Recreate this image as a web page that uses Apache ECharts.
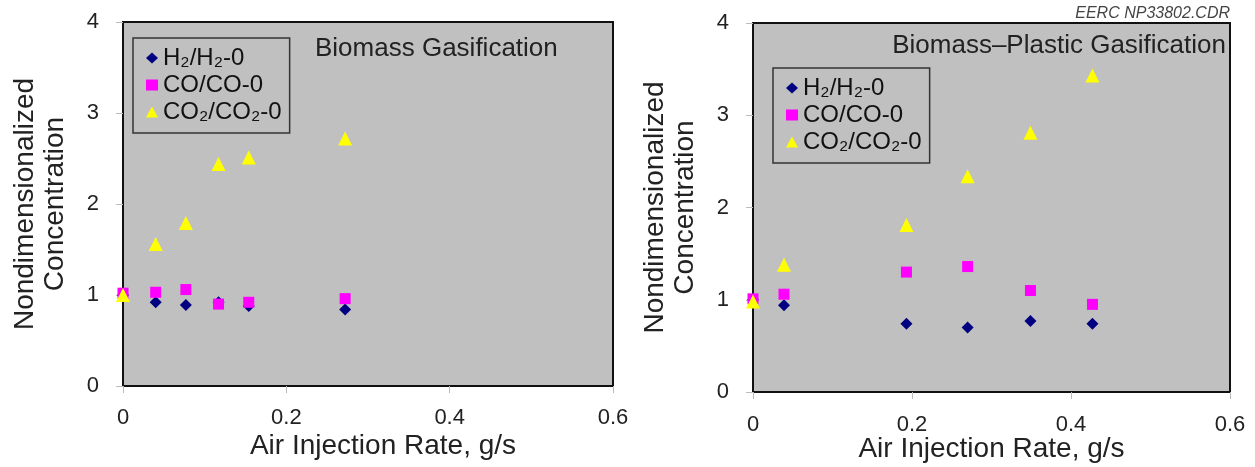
<!DOCTYPE html>
<html><head><meta charset="utf-8">
<script src="https://cdn.jsdelivr.net/npm/echarts@6/dist/echarts.min.js"></script>
<style>html,body{margin:0;padding:0;background:#fff}#c{width:1255px;height:467px}</style>
</head><body><div id="c"></div>
<script>
// Biomass Gasification
const bioX   = [0, 0.040, 0.077, 0.117, 0.154, 0.272];
const bioH2  = [1.00, 0.92, 0.89, 0.92, 0.88, 0.84];
const bioCO  = [1.02, 1.03, 1.06, 0.90, 0.92, 0.96];
const bioCO2 = [1.00, 1.56, 1.79, 2.44, 2.51, 2.72];
// Biomass–Plastic Gasification
const bpX    = [0, 0.039, 0.193, 0.270, 0.349, 0.427];
const bpH2   = [1.00, 0.94, 0.74, 0.70, 0.77, 0.74];
const bpCO   = [1.01, 1.06, 1.30, 1.36, 1.10, 0.95];
const bpCO2  = [0.98, 1.38, 1.81, 2.34, 2.81, 3.43];
const xTicks = [0, 0.2, 0.4, 0.6];
const yTicks = [0, 1, 2, 3, 4];
const seriesNames = ['H₂/H₂-0', 'CO/CO-0', 'CO₂/CO₂-0'];
const panelTitles = ['Biomass Gasification', 'Biomass–Plastic Gasification'];
const xTitle = 'Air Injection Rate, g/s';
const yTitle = 'Nondimensionalized\nConcentration';
const stamp = 'EERC NP33802.CDR';

const FONT = '"Liberation Sans", Arial, sans-serif';
const colors = ['#000080', '#ff00ff', '#ffff00'];
const symbols = ['diamond', 'rect', 'triangle'];
const sizes = [12, 11, 14];

function pair(xs, ys){ return xs.map((x,i)=>[x, ys[i]]); }

const grids = [
  {left:123, top:22, width:490, height:364},
  {left:753, top:23, width:477, height:369}
];
function xAxis(i){
  return {type:'value', gridIndex:i, min:xTicks[0], max:xTicks[xTicks.length-1], interval:0.2,
    name:xTitle, nameLocation:'middle', nameGap:i===0?46:43, nameMoveOverlap:false,
    nameTextStyle:{fontFamily:FONT, fontSize:28, color:'#222', padding:i===0?[0,0,0,30]:0},
    axisLine:{show:true, lineStyle:{color:'#111', width:2}},
    axisTick:{show:true, length:7, lineStyle:{color:'#bbb'}},
    splitLine:{show:false},
    axisLabel:{fontFamily:FONT, fontSize:22, color:'#222', margin:i===0?21:22}};
}
function yAxis(i){
  return {type:'value', gridIndex:i, min:yTicks[0], max:yTicks[yTicks.length-1], interval:1,
    name:yTitle, nameLocation:'middle', nameGap:53, nameMoveOverlap:false,
    nameTextStyle:{fontFamily:FONT, fontSize:28, color:'#222', lineHeight:30},
    axisLine:{show:true, lineStyle:{color:'#111', width:2}},
    axisTick:{show:true, length:7, lineStyle:{color:'#bbb'}},
    splitLine:{show:false},
    axisLabel:{fontFamily:FONT, fontSize:22, color:'#222', margin:24}};
}
const data = [[bioH2,bioCO,bioCO2],[bpH2,bpCO,bpCO2]];
const xs = [bioX, bpX];
const series = [];
for (let g=0; g<2; g++){
  for (let s=0; s<3; s++){
    series.push({type:'scatter', name:seriesNames[s], xAxisIndex:g, yAxisIndex:g,
      symbol:symbols[s], symbolSize:sizes[s], itemStyle:{color:colors[s], opacity:1},
      z: s===2 ? 4 : (s===1 ? 3 : 2),
      data:pair(xs[g], data[g][s])});
  }
}
const legendBase = {orient:'vertical', data:seriesNames.map((n,i)=>({name:n, icon:symbols[i]})),
  itemWidth:12, itemHeight:11, itemGap:3, padding:[8,8,9,13],
  backgroundColor:'#c0c0c0', borderColor:'#333', borderWidth:1.5,
  textStyle:{fontFamily:FONT, fontSize:24, color:'#111'}, selectedMode:false};
const chart = echarts.init(document.getElementById('c'));
chart.setOption({
  animation:false,
  backgroundColor:'#fff',
  grid: grids.map(g=>Object.assign({show:true, backgroundColor:'#c0c0c0', borderColor:'#111', borderWidth:2,
    containLabel:false, outerBoundsMode:'none'}, g)),
  xAxis:[xAxis(0), xAxis(1)],
  yAxis:[yAxis(0), yAxis(1)],
  legend:[Object.assign({}, legendBase, {left:133, top:38}),
          Object.assign({}, legendBase, {left:773, top:68})],
  title:[
    {text:panelTitles[0], left:315, top:36, padding:0, textStyle:{fontFamily:FONT, fontSize:26, fontWeight:'normal', color:'#222'}},
    {text:panelTitles[1], right:29, top:33, padding:0, textStyle:{fontFamily:FONT, fontSize:26, fontWeight:'normal', color:'#222'}},
    {text:stamp, right:25, top:6, padding:0, textStyle:{fontFamily:FONT, fontSize:16, fontStyle:'italic', fontWeight:'normal', color:'#444'}}
  ],
  series:series
});
</script></body></html>
